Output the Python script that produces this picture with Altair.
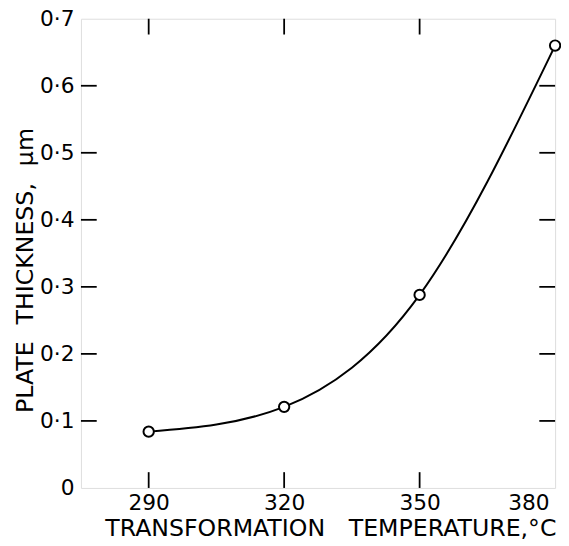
import altair as alt
import pandas as pd

# Data
temps = [290, 320, 350, 380]
thickness = [0.084, 0.121, 0.288, 0.660]

x_tick_values = [290, 320, 350, 380]
x_inner_ticks = [290, 320, 350]
y_tick_values = [0, 0.1, 0.2, 0.3, 0.4, 0.5, 0.6, 0.7]
y_inner_ticks = [0.1, 0.2, 0.3, 0.4, 0.5, 0.6]

x_domain = [275, 380]
y_domain = [0, 0.7]

W, H = 481, 476
TICK = 16
FONT = "DejaVu Sans"

df = pd.DataFrame({"temp": temps, "thick": thickness})
xt = pd.DataFrame({"v": x_inner_ticks})
yt = pd.DataFrame({"v": y_inner_ticks})

x_scale = alt.Scale(domain=x_domain, nice=False, zero=False)
y_scale = alt.Scale(domain=y_domain, nice=False, zero=True)

x_enc = alt.X(
    "temp:Q",
    scale=x_scale,
    axis=alt.Axis(
        values=x_tick_values,
        ticks=False,
        domain=False,
        grid=False,
        labelFlush=True,
        labelFlushOffset=-6,
        labelFont=FONT,
        labelFontSize=22,
        labelColor="black",
        labelPadding=5,
        title="TRANSFORMATION\u2003TEMPERATURE,°C",
        titleFont=FONT,
        titleFontSize=24,
        titleFontWeight="normal",
        titleColor="black",
        titleX=253,
        titleY=48,
        titleBaseline="alphabetic",
        titleAnchor="middle",
    ),
)
y_enc = alt.Y(
    "thick:Q",
    scale=y_scale,
    axis=alt.Axis(
        values=y_tick_values,
        ticks=False,
        domain=False,
        grid=False,
        labelExpr="datum.value == 0 ? '0' : replace(format(datum.value, '.1f'), '.', '·')",
        labelFont=FONT,
        labelFontSize=22,
        labelColor="black",
        labelPadding=7,
        title="PLATE \u2009\u2009THICKNESS, \u2009\u2009μm",
        titleFont=FONT,
        titleFontSize=24,
        titleFontWeight="normal",
        titleColor="black",
        titleX=-49,
        titleY=255,
        titleAngle=270,
        titleBaseline="alphabetic",
        titleAlign="center",
    ),
)

line = alt.Chart(df).mark_line(
    interpolate="natural", color="black", strokeWidth=2
).encode(x=x_enc, y=y_enc)

points = alt.Chart(df).mark_point(
    shape="circle", filled=True, fill="white", stroke="black",
    strokeWidth=2, size=110, opacity=1
).encode(x=alt.X("temp:Q", scale=x_scale), y=alt.Y("thick:Q", scale=y_scale))

x_ticks_bottom = alt.Chart(xt).mark_rule(color="black", strokeWidth=1.8).encode(
    x=alt.X("v:Q", scale=x_scale), y=alt.value(H), y2=alt.value(H - TICK)
)
x_ticks_top = alt.Chart(xt).mark_rule(color="black", strokeWidth=1.8).encode(
    x=alt.X("v:Q", scale=x_scale), y=alt.value(0), y2=alt.value(TICK)
)
y_ticks_left = alt.Chart(yt).mark_rule(color="black", strokeWidth=1.8).encode(
    y=alt.Y("v:Q", scale=y_scale), x=alt.value(0), x2=alt.value(TICK)
)
y_ticks_right = alt.Chart(yt).mark_rule(color="black", strokeWidth=1.8).encode(
    y=alt.Y("v:Q", scale=y_scale), x=alt.value(W - TICK), x2=alt.value(W)
)

chart = alt.layer(
    line, x_ticks_bottom, x_ticks_top, y_ticks_left, y_ticks_right, points
).properties(
    width=W,
    height=H,
    autosize=alt.AutoSizeParams(type="none"),
    padding={"left": 74, "top": 7, "right": 6, "bottom": 55},
).configure_view(
    stroke="black", strokeWidth=2.5
).configure(background="white")

chart.save("out.html", embed_options={"renderer": "svg", "actions": False})
